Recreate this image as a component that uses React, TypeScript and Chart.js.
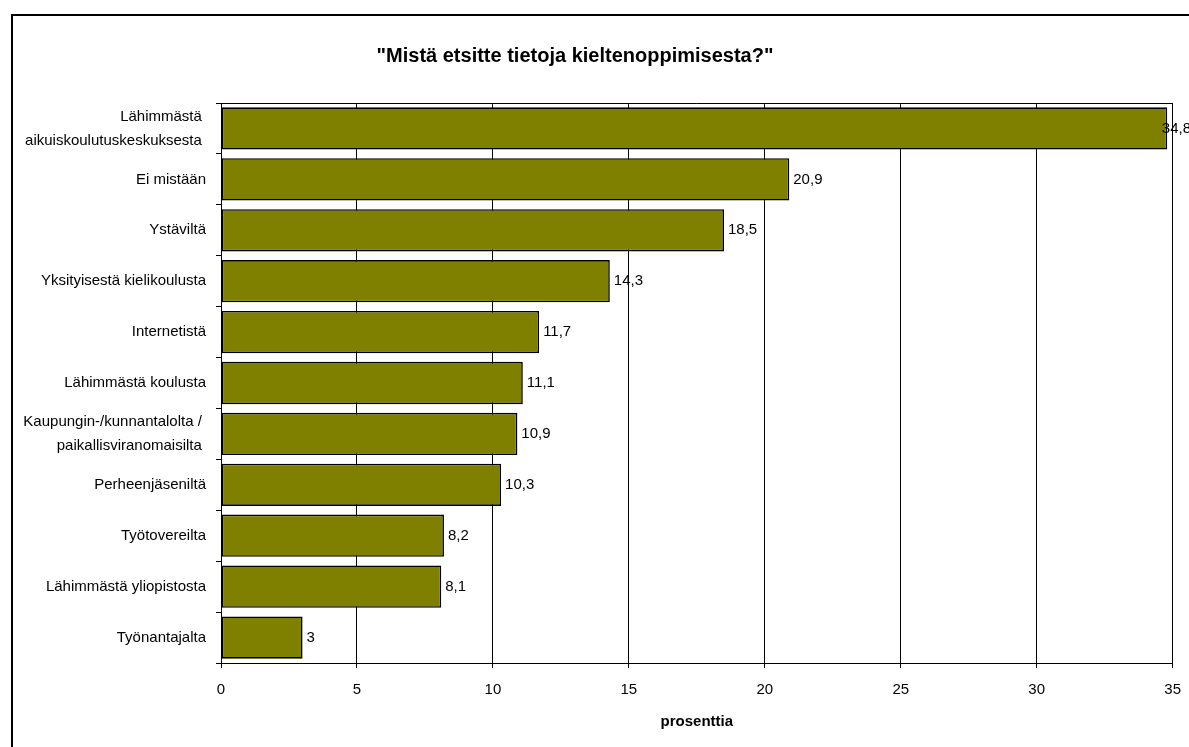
import React, { useEffect, useRef } from "react";
import { Chart, registerables } from "chart.js";

Chart.register(...registerables);

const categories: (string | string[])[] = [
  ["Lähimmästä ", "aikuiskoulutuskeskuksesta "],
  "Ei mistään",
  "Ystäviltä",
  "Yksityisestä kielikoulusta",
  "Internetistä",
  "Lähimmästä koulusta",
  ["Kaupungin-/kunnantalolta / ", "paikallisviranomaisilta "],
  "Perheenjäseniltä",
  "Työtovereilta",
  "Lähimmästä yliopistosta",
  "Työnantajalta",
];
const values: number[] = [34.8, 20.9, 18.5, 14.3, 11.7, 11.1, 10.9, 10.3, 8.2, 8.1, 3];
const titleText = '"Mistä etsitte tietoja kieltenoppimisesta?"';
const axisTitle = "prosenttia";
const xMin = 0;
const xMax = 35;
const xStep = 5;

const FONT = "'Liberation Sans', Arial, sans-serif";

export default function App() {
  const ref = useRef<HTMLCanvasElement | null>(null);

  useEffect(() => {
    if (!ref.current) return;
    const extras = {
      id: "extras",
      beforeDatasetsDraw(chart: any) {
        const { ctx, chartArea } = chart;
        ctx.save();
        ctx.strokeStyle = "#000";
        ctx.lineWidth = 1;
        ctx.beginPath();
        ctx.moveTo(chartArea.left, chartArea.top + 0.5);
        ctx.lineTo(chartArea.right, chartArea.top + 0.5);
        ctx.stroke();
        ctx.restore();
      },
      afterDraw(chart: any) {
        const { ctx } = chart;
        ctx.save();
        ctx.fillStyle = "#000";
        ctx.font = `bold 20px ${FONT}`;
        ctx.textAlign = "center";
        ctx.textBaseline = "middle";
        ctx.fillText(titleText, 575, 56);
        ctx.font = `15px ${FONT}`;
        ctx.textAlign = "left";
        const meta = chart.getDatasetMeta(0);
        meta.data.forEach((bar: any, i: number) => {
          const txt = String(values[i]).replace(".", ",");
          const w = ctx.measureText(txt).width;
          let x = bar.x + 4;
          if (x + w > 1189 + 2) x = 1189 - w + 2;
          ctx.fillText(txt, x, bar.y);
        });
        ctx.restore();
      },
    };

    const chart = new Chart(ref.current, {
      type: "bar",
      data: {
        labels: categories,
        datasets: [
          {
            data: values,
            backgroundColor: "#808000",
            borderColor: "#000",
            borderWidth: 1.6,
            borderSkipped: false,
            barPercentage: 0.83,
            categoryPercentage: 1,
          },
        ],
      },
      options: {
        indexAxis: "y",
        animation: false,
        responsive: true,
        maintainAspectRatio: false,
        layout: { padding: { left: 0, right: 7, top: 103, bottom: 0 } },
        plugins: {
          legend: { display: false },
          tooltip: { enabled: false },
          title: { display: false },
        },
        scales: {
          x: {
            min: xMin,
            max: xMax,
            ticks: { stepSize: xStep, color: "#000", font: { family: FONT, size: 15 }, padding: 13 },
            grid: { color: "#000", lineWidth: 1, tickLength: 5, drawTicks: true },
            border: { color: "#000", width: 1 },
            title: {
              display: true,
              text: axisTitle,
              color: "#000",
              font: { family: FONT, size: 15, weight: "bold" },
              padding: { top: 0, bottom: 16 },
            },
            afterFit(scale: any) {
              scale.height = 84;
            },
          },
          y: {
            ticks: {
              color: "#000",
              font: { family: FONT, size: 15, lineHeight: 1.6 },
              padding: 10,
              crossAlign: "near",
              autoSkip: false,
            },
            grid: { offset: true, drawOnChartArea: false, drawTicks: true, tickLength: 5, color: "#000" },
            border: { color: "#000", width: 1 },
            afterFit(scale: any) {
              scale.width = 221;
            },
          },
        },
      },
      plugins: [extras],
    } as any);
    return () => chart.destroy();
  }, []);

  return (
    <div style={{ position: "fixed", left: 0, top: 0, width: 1189, height: 747, overflow: "hidden", background: "#fff" }}>
      <div
        style={{
          position: "absolute",
          left: 11,
          top: 14,
          width: 3000,
          height: 3000,
          border: "2px solid #000",
          boxSizing: "border-box",
        }}
      />
      <div style={{ position: "absolute", left: 0, top: 0, width: 1194, height: 747 }}>
        <canvas ref={ref} />
      </div>
    </div>
  );
}
